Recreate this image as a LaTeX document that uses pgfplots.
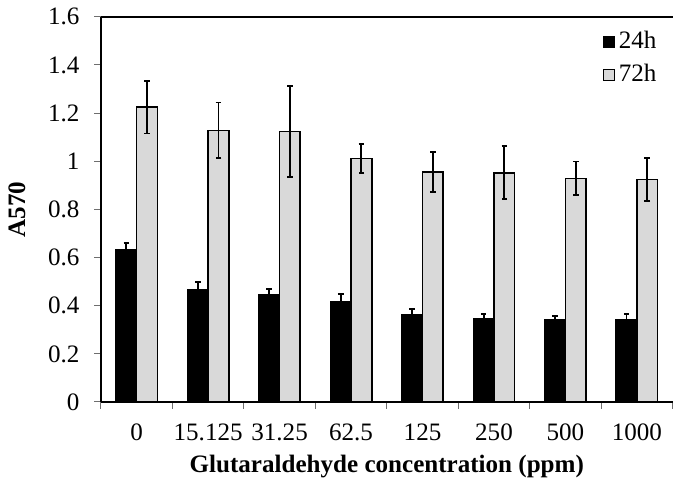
\documentclass[border=0pt]{standalone}
\usepackage{fontspec}
\setmainfont{Liberation Serif}
\usepackage{pgfplots}
\pgfplotsset{compat=1.18}
\definecolor{barlight}{RGB}{217,217,217}
\definecolor{axgray}{RGB}{110,110,110}

\begin{document}
\fontsize{12.5}{15}\selectfont
\begin{tikzpicture}
\begin{axis}[
    scale only axis,
    width=285pt, height=192pt,
    ybar=0pt, bar width=10.3pt,
    xmin=-0.5, xmax=7.5,
    ymin=0, ymax=1.6,
    axis x line*=bottom, axis y line*=left,
    axis line style={black, line width=0.8pt},
    tick align=outside,
    major tick length=3.4pt,
    tick style={axgray, line width=0.5pt},
    xtick={-0.5,0.5,...,7.5},
    xticklabels={},
    extra x ticks={0,1,2,3,4,5,6,7},
    extra x tick labels={0,15.125,31.25,62.5,125,250,500,1000},
    extra x tick style={major tick length=0pt},
    ytick={0,0.2,...,1.6},
    extra y ticks={1.6},
    extra y tick labels={},
    extra y tick style={grid=major, major grid style={black, line width=0.8pt}},
    /pgf/number format/assume math mode=true,
    ticklabel style={font=\fontsize{12.5}{15}\selectfont},
    xticklabel style={yshift=-6.5pt},
    yticklabel style={xshift=-3pt},
    xlabel={\textbf{Glutaraldehyde concentration (ppm)}},
    xlabel style={yshift=5pt},
    ylabel={\textbf{A570}},
    ylabel style={yshift=-4pt},
    legend style={at={(rel axis cs:0.99,0.985)}, anchor=north east,
        draw=none, fill=none, row sep=2pt,
        font=\fontsize{12.5}{15}\selectfont},
    legend cell align=left,
    legend image code/.code={\draw[#1, line width=0.6pt] (0pt,-2.7pt) rectangle (5.4pt,2.7pt);},
    error bars/y dir=both,
    error bars/y explicit,
    error bars/error bar style={black, line width=0.9pt},
    error bars/error mark options={rotate=90, black, line width=0.9pt, mark size=1.4pt},
]
\addplot[fill=black, draw=black, line width=0.8pt,
    error bars/y dir=plus]
coordinates {
    (0,0.634) +- (0,0.025)
    (1,0.466) +- (0,0.033)
    (2,0.446) +- (0,0.025)
    (3,0.417) +- (0,0.032)
    (4,0.362) +- (0,0.025)
    (5,0.346) +- (0,0.018)
    (6,0.342) +- (0,0.015)
    (7,0.342) +- (0,0.022)
};
\addplot[fill=barlight, draw=black, line width=0.8pt]
coordinates {
    (0,1.225) +- (0,0.110)
    (1,1.128) +- (0,0.116)
    (2,1.124) +- (0,0.188)
    (3,1.012) +- (0,0.060)
    (4,0.955) +- (0,0.084)
    (5,0.952) +- (0,0.110)
    (6,0.929) +- (0,0.070)
    (7,0.924) +- (0,0.088)
};
\legend{24h,72h}
\end{axis}
\end{tikzpicture}
\end{document}
